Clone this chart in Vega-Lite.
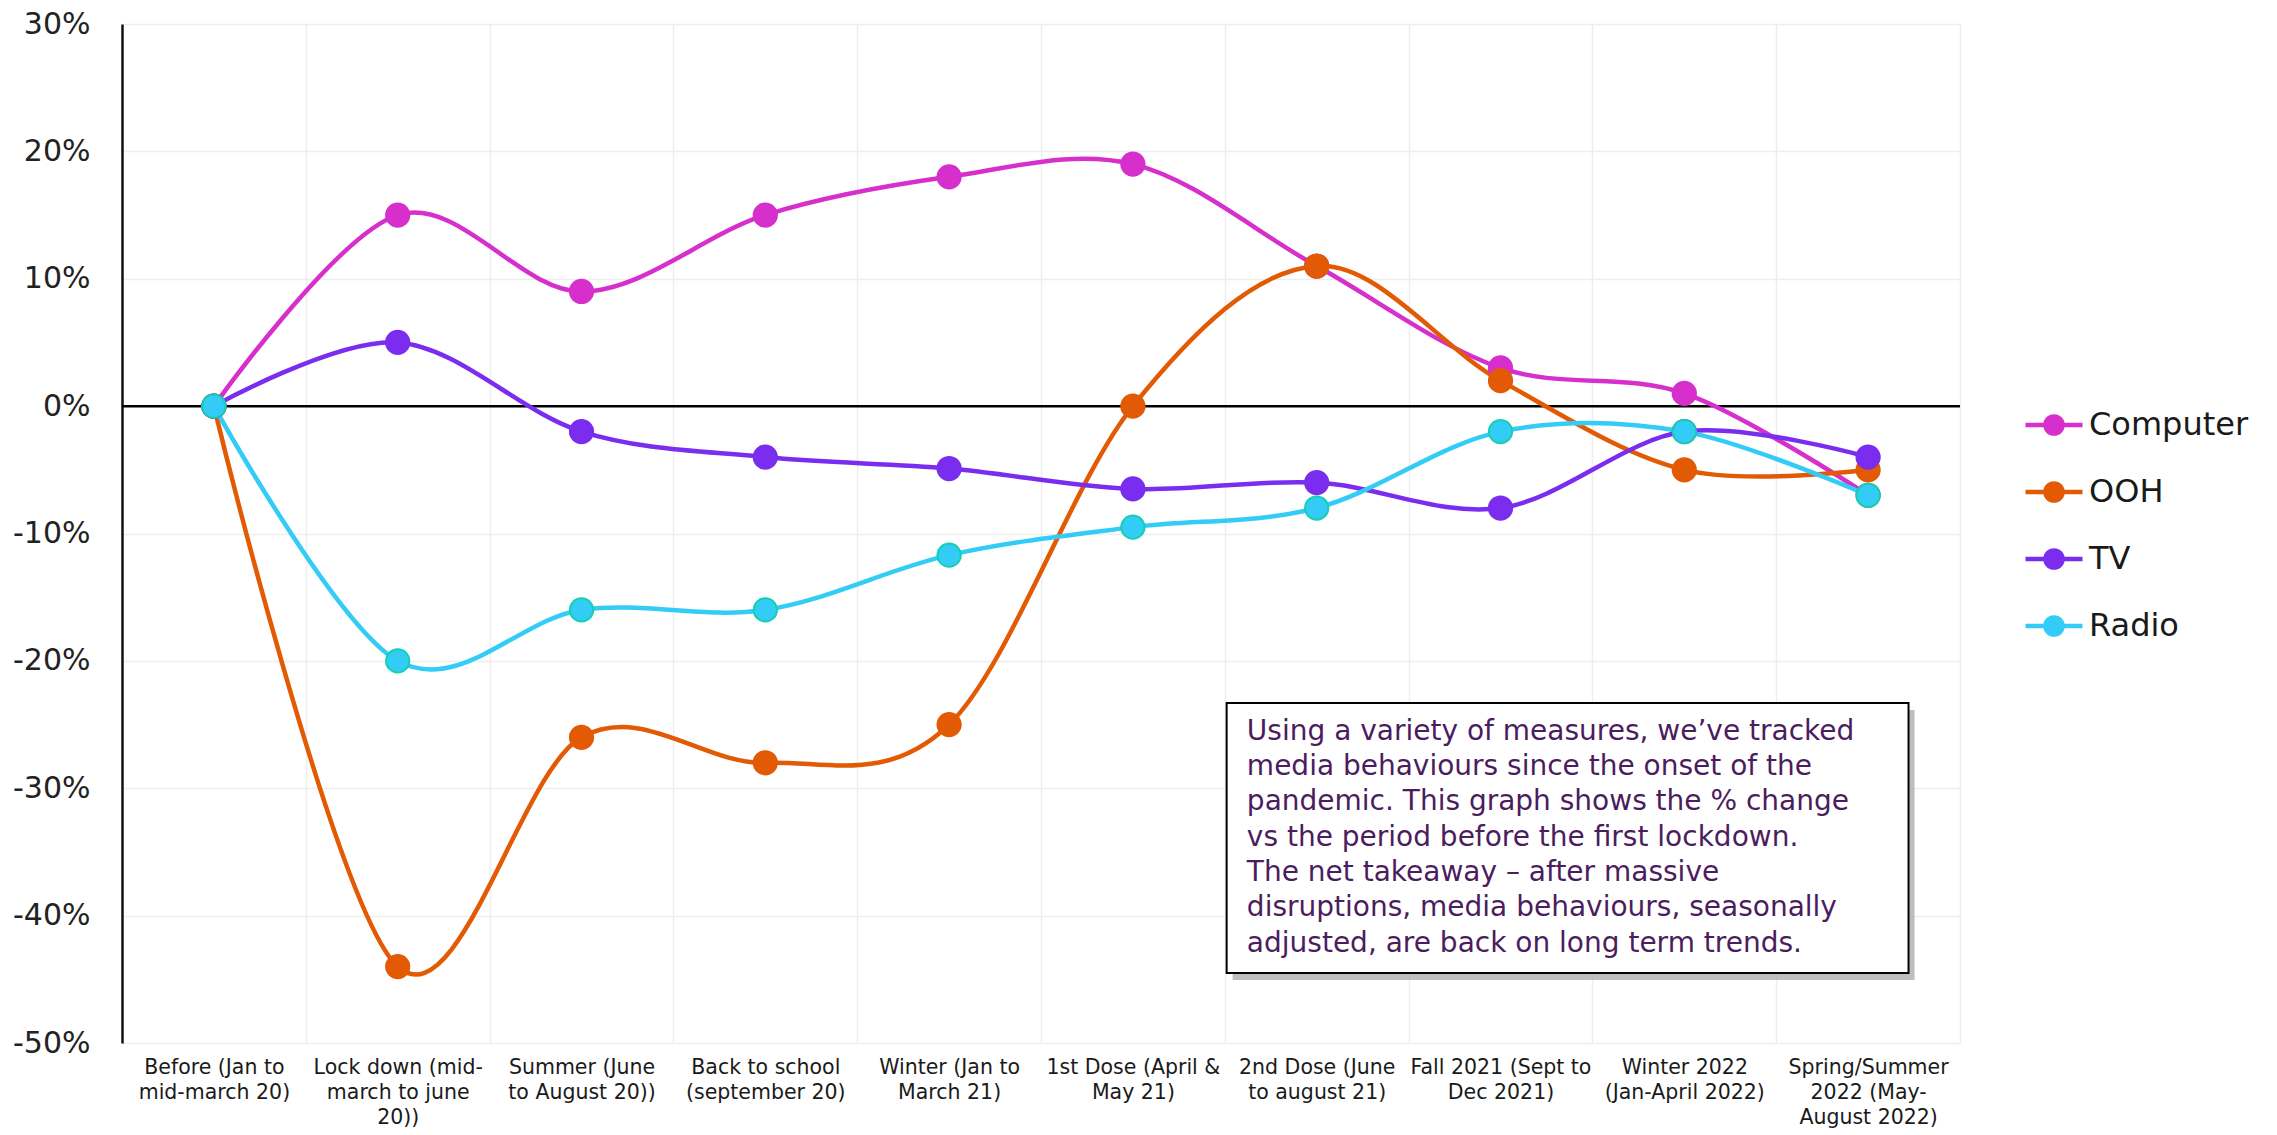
{
  "$schema": "https://vega.github.io/schema/vega-lite/v6.json",
  "width": 1838,
  "height": 1019,
  "autosize": {"type": "none"},
  "padding": {"left": 122, "top": 24, "right": 317, "bottom": 92},
  "background": "white",
  "config": {"view": {"stroke": null}, "font": "DejaVu Sans"},
  "datasets": {
    "media": [
      {"period": "Before (Jan to|mid-march 20)", "series": "Computer", "value": 0},
      {"period": "Lock down (mid-|march to june|20))", "series": "Computer", "value": 15},
      {"period": "Summer (June|to  August 20))", "series": "Computer", "value": 9},
      {"period": "Back to school|(september 20)", "series": "Computer", "value": 15},
      {"period": "Winter (Jan to|March 21)", "series": "Computer", "value": 18},
      {"period": "1st Dose (April &|May 21)", "series": "Computer", "value": 19},
      {"period": "2nd Dose (June|to august 21)", "series": "Computer", "value": 11},
      {"period": "Fall 2021 (Sept to|Dec 2021)", "series": "Computer", "value": 3},
      {"period": "Winter 2022|(Jan-April 2022)", "series": "Computer", "value": 1},
      {"period": "Spring/Summer|2022 (May-|August 2022)", "series": "Computer", "value": -7},
      {"period": "Before (Jan to|mid-march 20)", "series": "OOH", "value": 0},
      {"period": "Lock down (mid-|march to june|20))", "series": "OOH", "value": -44},
      {"period": "Summer (June|to  August 20))", "series": "OOH", "value": -26},
      {"period": "Back to school|(september 20)", "series": "OOH", "value": -28},
      {"period": "Winter (Jan to|March 21)", "series": "OOH", "value": -25},
      {"period": "1st Dose (April &|May 21)", "series": "OOH", "value": 0},
      {"period": "2nd Dose (June|to august 21)", "series": "OOH", "value": 11},
      {"period": "Fall 2021 (Sept to|Dec 2021)", "series": "OOH", "value": 2},
      {"period": "Winter 2022|(Jan-April 2022)", "series": "OOH", "value": -5},
      {"period": "Spring/Summer|2022 (May-|August 2022)", "series": "OOH", "value": -5},
      {"period": "Before (Jan to|mid-march 20)", "series": "TV", "value": 0},
      {"period": "Lock down (mid-|march to june|20))", "series": "TV", "value": 5},
      {"period": "Summer (June|to  August 20))", "series": "TV", "value": -2},
      {"period": "Back to school|(september 20)", "series": "TV", "value": -4},
      {"period": "Winter (Jan to|March 21)", "series": "TV", "value": -4.9},
      {"period": "1st Dose (April &|May 21)", "series": "TV", "value": -6.5},
      {"period": "2nd Dose (June|to august 21)", "series": "TV", "value": -6},
      {"period": "Fall 2021 (Sept to|Dec 2021)", "series": "TV", "value": -8},
      {"period": "Winter 2022|(Jan-April 2022)", "series": "TV", "value": -2},
      {"period": "Spring/Summer|2022 (May-|August 2022)", "series": "TV", "value": -4},
      {"period": "Before (Jan to|mid-march 20)", "series": "Radio", "value": 0},
      {"period": "Lock down (mid-|march to june|20))", "series": "Radio", "value": -20},
      {"period": "Summer (June|to  August 20))", "series": "Radio", "value": -16},
      {"period": "Back to school|(september 20)", "series": "Radio", "value": -16},
      {"period": "Winter (Jan to|March 21)", "series": "Radio", "value": -11.7},
      {"period": "1st Dose (April &|May 21)", "series": "Radio", "value": -9.5},
      {"period": "2nd Dose (June|to august 21)", "series": "Radio", "value": -8},
      {"period": "Fall 2021 (Sept to|Dec 2021)", "series": "Radio", "value": -2},
      {"period": "Winter 2022|(Jan-April 2022)", "series": "Radio", "value": -2},
      {"period": "Spring/Summer|2022 (May-|August 2022)", "series": "Radio", "value": -7}
    ],
    "note": [
      {"x": 6.01, "x2": 9.72, "y": -23.3, "y2": -44.5, "tx": 6.12, "ty": -26.2,
       "text": "Using a variety of measures, we’ve tracked\nmedia behaviours since the onset of the\npandemic.  This graph shows the % change\nvs the period before the first lockdown.\nThe net takeaway – after massive\ndisruptions, media behaviours, seasonally\nadjusted, are back on long term trends."}
    ],
    "zero": [{"zero": 0}]
  },
  "resolve": {"scale": {"x": "independent"}},
  "layer": [
    {
      "data": {"name": "zero"},
      "mark": {"type": "rule", "color": "#000000", "strokeWidth": 2.5},
      "encoding": {
        "y": {"field": "zero", "type": "quantitative", "scale": {"domain": [-50, 30], "nice": false, "zero": false},
              "axis": {"title": null, "values": [-50, -40, -30, -20, -10, 0, 10, 20, 30], "labelExpr": "datum.value + '%'",
                       "labelFontSize": 30, "labelPadding": 32, "ticks": false, "grid": true, "gridColor": "#eeeeee", "gridWidth": 1.5,
                       "domainColor": "#111111", "domainWidth": 2.5, "labelColor": "#222222", "labelFont": "DejaVu Sans"}}
      }
    },
    {
      "data": {"name": "note"},
      "layer": [
        {
          "mark": {"type": "rect", "fill": "#a8a8a8", "opacity": 0.75, "xOffset": 6, "x2Offset": 6, "yOffset": 7, "y2Offset": 7},
          "encoding": {
            "x": {"field": "x", "type": "quantitative", "scale": {"domain": [0, 10], "nice": false, "zero": false},
                  "axis": {"orient": "top", "values": [1, 2, 3, 4, 5, 6, 7, 8, 9, 10], "grid": true, "gridColor": "#eeeeee", "gridWidth": 1.5, "labels": false, "ticks": false, "domain": false, "title": null}},
            "x2": {"field": "x2"},
            "y": {"field": "y", "type": "quantitative", "scale": {"domain": [-50, 30], "nice": false, "zero": false}},
            "y2": {"field": "y2"}
          }
        },
        {
          "mark": {"type": "rect", "fill": "#ffffff", "stroke": "#000000", "strokeWidth": 2},
          "encoding": {
            "x": {"field": "x", "type": "quantitative"},
            "x2": {"field": "x2"},
            "y": {"field": "y", "type": "quantitative"},
            "y2": {"field": "y2"}
          }
        },
        {
          "mark": {"type": "text", "lineBreak": "\n", "align": "left", "baseline": "alphabetic", "fontSize": 28, "lineHeight": 35.3, "color": "#4B1D5E", "font": "DejaVu Sans"},
          "encoding": {
            "x": {"field": "tx", "type": "quantitative"},
            "y": {"field": "ty", "type": "quantitative"},
            "text": {"field": "text", "type": "nominal"}
          }
        }
      ]
    },
    {
      "data": {"name": "media"},
      "encoding": {
        "x": {"field": "period", "type": "nominal", "sort": null, "scale": {"type": "point", "padding": 0.5},
              "axis": {"title": null, "orient": "bottom", "grid": false, "domain": false, "ticks": false, "labelAngle": 0,
                       "labelExpr": "split(datum.label, '|')", "labelFontSize": 20.5, "labelLineHeight": 25, "labelPadding": 14,
                       "labelBaseline": "top", "labelColor": "#1a1a1a", "labelOverlap": false, "labelBound": false, "labelLimit": 0, "labelFont": "DejaVu Sans"}},
        "y": {"field": "value", "type": "quantitative", "scale": {"domain": [-50, 30], "nice": false, "zero": false}}
      },
      "layer": [
        {
          "mark": {"type": "line", "interpolate": "cardinal", "tension": 0, "strokeWidth": 4.5},
          "encoding": {
            "color": {"field": "series", "type": "nominal",
                      "scale": {"domain": ["Computer", "OOH", "TV", "Radio"], "range": ["#D62FCC", "#E35A05", "#7A2DEE", "#33CCF7"]},
                      "legend": {"title": null, "orient": "none", "legendX": 1901, "legendY": 370,
                                 "symbolType": "M-1,0H1M-0.3,0A0.3,0.3 0 1,0 0.3,0A0.3,0.3 0 1,0 -0.3,0Z",
                                 "symbolSize": 3249, "symbolStrokeWidth": 4.5, "labelFontSize": 32, "labelOffset": 4,
                                 "rowPadding": 18, "labelColor": "#1a1a1a", "labelFont": "DejaVu Sans", "padding": 0,
                                 "encode": {"symbols": {"update": {"fill": {"scale": "color", "field": "value"}, "stroke": {"scale": "color", "field": "value"}, "opacity": {"value": 1}}}}}}
          }
        },
        {
          "mark": {"type": "point", "filled": true, "size": 540, "strokeWidth": 2, "opacity": 1},
          "encoding": {
            "fill": {"field": "series", "type": "nominal",
                     "scale": {"domain": ["Computer", "OOH", "TV", "Radio"], "range": ["#D62FCC", "#E35A05", "#7A2DEE", "#33CCF7"]}, "legend": null},
            "stroke": {"field": "series", "type": "nominal",
                       "scale": {"domain": ["Computer", "OOH", "TV", "Radio"], "range": ["#D62FCC", "#E35A05", "#7A2DEE", "#14CFB0"]}, "legend": null}
          }
        }
      ]
    }
  ]
}
